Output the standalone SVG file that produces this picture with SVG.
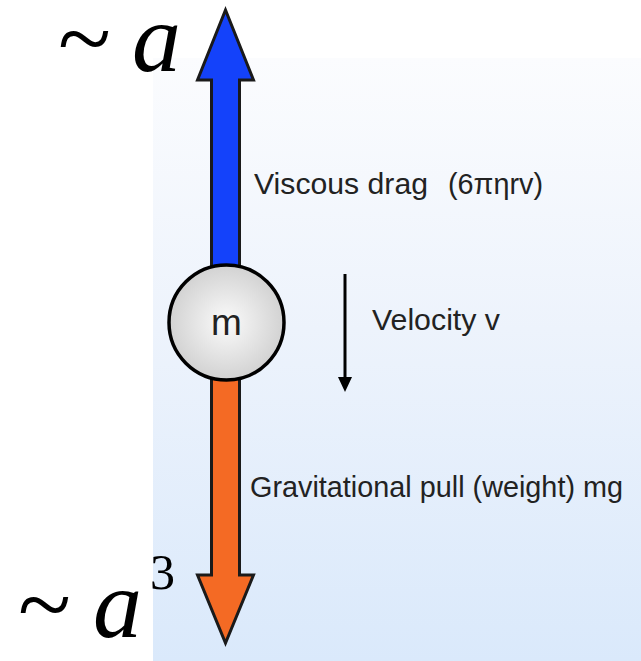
<svg xmlns="http://www.w3.org/2000/svg" width="641" height="661" viewBox="0 0 641 661">
<defs>
<linearGradient id="bg" x1="0" y1="0" x2="0" y2="1">
<stop offset="0" stop-color="#fbfcfe"/>
<stop offset="0.45" stop-color="#edf3fc"/>
<stop offset="1" stop-color="#dae9fb"/>
</linearGradient>
<radialGradient id="ball" cx="0.5" cy="0.5" r="0.5">
<stop offset="0" stop-color="#fbfbfb"/>
<stop offset="1" stop-color="#d2d2d2"/>
</radialGradient>
</defs>
<style>
.lbl{font-family:"Liberation Sans",Arial,sans-serif;font-size:29px;fill:#222}
.big{font-size:37px}
.math{font-family:"Liberation Serif","Times New Roman",serif;fill:#000}
.arrow{stroke:#1a1a1a;stroke-width:3;stroke-linejoin:miter}
</style>
<rect x="153" y="58" width="488" height="603" fill="url(#bg)"/>
<g id="connectors">
<path id="drag-arrow" class="arrow" fill="#1442fa" d="M211.5,270 L211.5,80 L197.5,80 L225.5,10 L253.5,80 L239.5,80 L239.5,270 Z"/>
<path id="weight-arrow" class="arrow" fill="#f46a24" d="M211.5,375 L211.5,575 L197.5,575 L225.5,643 L253.5,575 L239.5,575 L239.5,375 Z"/>
<g id="velocity-arrow">
<line x1="345" y1="274" x2="345" y2="380" stroke="#000" stroke-width="3"/>
<path d="M338,377 L352,377 L345,392 Z" fill="#000"/>
</g>
</g>
<g id="mass">
<circle cx="226.5" cy="322.5" r="57.5" fill="url(#ball)" stroke="#000" stroke-width="3.5"/>
<text class="lbl big" x="226.5" y="335" text-anchor="middle">m</text>
</g>
<g id="drag-label">
<text class="lbl" x="254" y="194" textLength="174" lengthAdjust="spacingAndGlyphs">Viscous drag</text>
<text class="lbl" x="448" y="194" textLength="95" lengthAdjust="spacingAndGlyphs">(6πηrv)</text>
</g>
<g id="velocity-label">
<text class="lbl" x="372" y="330" textLength="128" lengthAdjust="spacingAndGlyphs">Velocity v</text>
</g>
<g id="weight-label">
<text class="lbl" x="250" y="497" textLength="373" lengthAdjust="spacingAndGlyphs">Gravitational pull (weight) mg</text>
</g>
<g id="scale-top">
<text class="math" x="58" y="71" font-size="98"><tspan>~</tspan><tspan x="132" font-style="italic">a</tspan></text>
</g>
<g id="scale-bottom">
<text class="math" x="18" y="637" font-size="98"><tspan>~</tspan><tspan x="93" font-style="italic">a</tspan><tspan x="150" y="589" font-size="50">3</tspan></text>
</g>
</svg>
